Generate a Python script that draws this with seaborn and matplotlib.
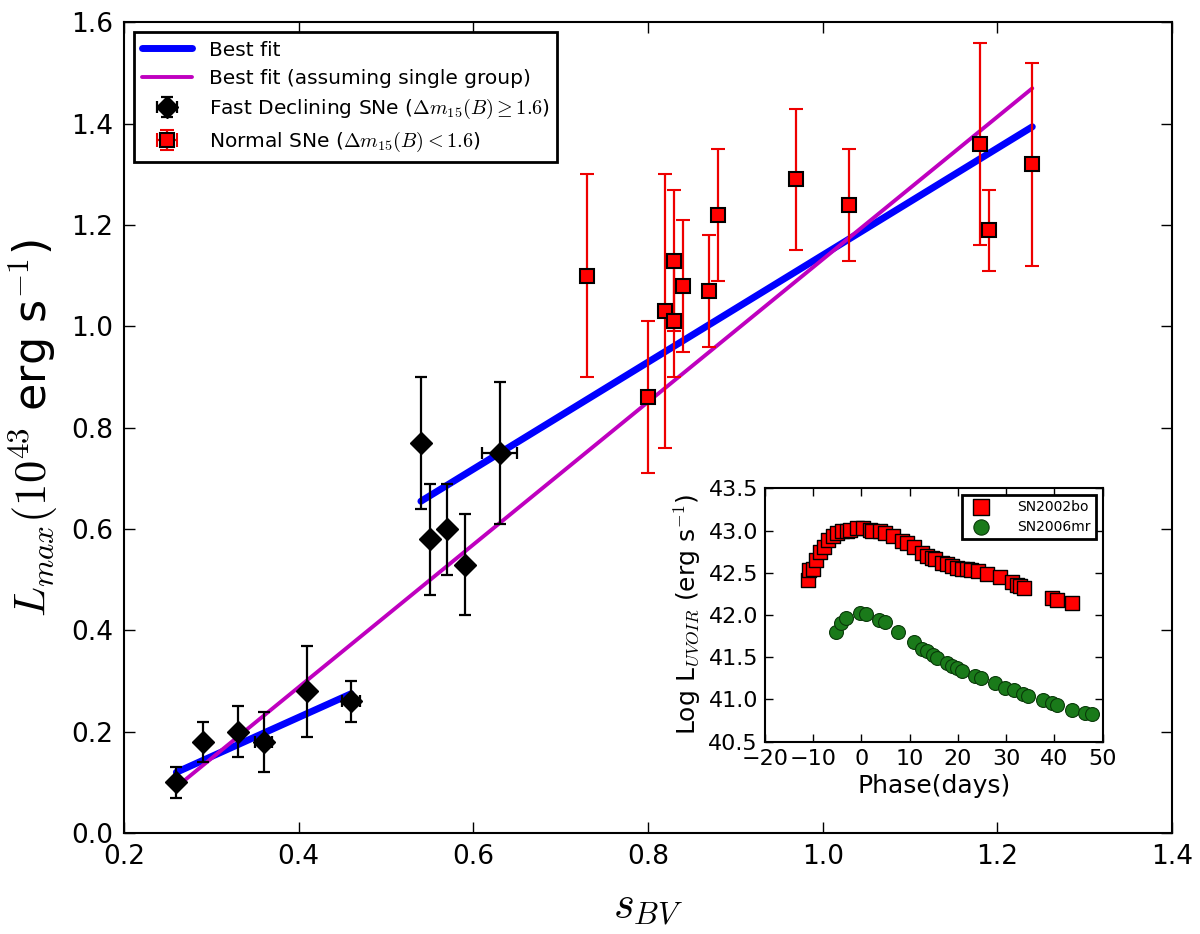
import numpy as np
import pandas as pd
import matplotlib
matplotlib.use("Agg")
import matplotlib.pyplot as plt
import seaborn as sns

# ---------------- data ----------------
fast_s = [0.26, 0.29, 0.33, 0.36, 0.41, 0.46, 0.54, 0.55, 0.57, 0.59, 0.63]
fast_L = [0.10, 0.18, 0.20, 0.18, 0.28, 0.26, 0.77, 0.58, 0.60, 0.53, 0.75]
fast_Lerr = [0.03, 0.04, 0.05, 0.06, 0.09, 0.04, 0.13, 0.11, 0.09, 0.10, 0.14]
fast_serr = [0.0, 0.0, 0.0, 0.01, 0.0, 0.01, 0.0, 0.0, 0.0, 0.0, 0.02]

norm_s = [0.73, 0.82, 0.83, 0.83, 0.84, 0.87, 0.88, 0.80, 0.97, 1.03, 1.18, 1.19, 1.24]
norm_L = [1.10, 1.03, 1.13, 1.01, 1.08, 1.07, 1.22, 0.86, 1.29, 1.24, 1.36, 1.19, 1.32]
norm_Lerr = [0.20, 0.27, 0.14, 0.11, 0.13, 0.11, 0.13, 0.15, 0.14, 0.11, 0.20, 0.08, 0.20]
norm_serr = [0.0] * 13

fit_fast_s = [0.26, 0.46]
fit_fast_L = [0.12, 0.275]
fit_norm_s = [0.54, 1.24]
fit_norm_L = [0.655, 1.394]
fit_all_s = [0.26, 1.24]
fit_all_L = [0.091, 1.470]

sn02bo_phase = [-11.0, -10.8, -10.0, -9.5, -8.6, -7.8, -6.9, -6.0, -5.1, -4.1, -3.1, -2.4,
                -1.0, 0.4, 1.8, 2.1, 3.8, 4.9, 6.6, 8.3, 9.4, 10.8, 12.5, 13.5, 14.6, 15.2,
                16.6, 17.7, 18.7, 19.7, 20.8, 21.8, 22.8, 24.2, 26.0, 28.7, 31.1, 32.2,
                32.9, 33.7, 39.4, 40.5, 43.6]
sn02bo_logL = [42.41, 42.53, 42.55, 42.65, 42.75, 42.81, 42.89, 42.93, 42.97, 42.99, 43.00,
               43.01, 43.03, 43.03, 43.01, 43.00, 42.99, 42.97, 42.93, 42.88, 42.85, 42.80,
               42.73, 42.70, 42.67, 42.66, 42.62, 42.60, 42.58, 42.56, 42.55, 42.54, 42.53,
               42.52, 42.49, 42.45, 42.39, 42.36, 42.34, 42.32, 42.20, 42.18, 42.14]

sn06mr_phase = [-5.3, -4.3, -3.2, -0.4, 0.9, 3.7, 4.9, 7.6, 10.8, 12.5, 13.5, 14.8, 15.7,
                17.7, 18.7, 19.7, 20.8, 23.5, 24.7, 27.7, 29.8, 31.6, 33.4, 34.6, 37.7,
                39.4, 40.6, 43.6, 46.4, 47.7]
sn06mr_logL = [41.80, 41.90, 41.97, 42.02, 42.01, 41.94, 41.92, 41.80, 41.68, 41.60, 41.57,
               41.53, 41.49, 41.43, 41.40, 41.37, 41.34, 41.28, 41.25, 41.19, 41.14, 41.11,
               41.06, 41.04, 40.99, 40.96, 40.93, 40.88, 40.84, 40.83]

# ---------------- style ----------------
sns.set_style("ticks")
plt.rcParams["font.family"] = ["DejaVu Sans"]
plt.rcParams["mathtext.fontset"] = "cm"
plt.rcParams["axes.linewidth"] = 1.5
for k in ["text.color", "axes.labelcolor", "xtick.color", "ytick.color", "axes.edgecolor"]:
    plt.rcParams[k] = "black"

fig = plt.figure(figsize=(12, 9.34), dpi=100)
ax = fig.add_axes([0.1033, 0.108, 0.8734, 0.868])

sns.lineplot(x=fit_fast_s, y=fit_fast_L, ax=ax, color="#0000ff", lw=5.0, label="Best fit",
             solid_capstyle="round")
sns.lineplot(x=fit_norm_s, y=fit_norm_L, ax=ax, color="#0000ff", lw=5.0,
             solid_capstyle="round")
sns.lineplot(x=fit_all_s, y=fit_all_L, ax=ax, color="#bf00bf", lw=2.8,
             label="Best fit (assuming single group)", solid_capstyle="round")

ax.errorbar(fast_s, fast_L, yerr=fast_Lerr, xerr=fast_serr, fmt="D", color="black",
            mfc="black", mec="black", ms=11, elinewidth=1.6, capsize=4.5, capthick=1.6,
            zorder=3, label=r"Fast Declining SNe ($\Delta m_{15}(B) \geq 1.6$)")
ax.errorbar(norm_s, norm_L, yerr=norm_Lerr, xerr=norm_serr, fmt="s", color="#ff0000",
            ecolor="#ee0000", mfc="#ff0000", mec="black", mew=1.5, ms=10, elinewidth=1.6,
            capsize=5, capthick=1.6, zorder=3,
            label=r"Normal SNe ($\Delta m_{15}(B) < 1.6$)")

ax.set_xlim(0.2, 1.4)
ax.set_ylim(0.0, 1.6)
ax.set_xticks(np.arange(0.2, 1.41, 0.2))
ax.set_yticks(np.arange(0.0, 1.61, 0.2))
ax.xaxis.set_major_formatter(matplotlib.ticker.FormatStrFormatter("%.1f"))
ax.yaxis.set_major_formatter(matplotlib.ticker.FormatStrFormatter("%.1f"))
ax.tick_params(direction="in", top=True, right=True, length=8, width=1, labelsize=19, pad=8)
for sp in ax.spines.values():
    sp.set_visible(True)
    sp.set_color("black")
    sp.set_linewidth(1.5)
ax.set_xlabel(r"$s_{BV}$", fontsize=32, labelpad=10)
ax.set_ylabel(r"$L_{max}(10^{43}$ erg s$^{-1}$)", fontsize=32, labelpad=8)

leg = ax.legend(loc="upper left", fontsize=14.5, frameon=True, fancybox=False,
                handlelength=2.5, borderaxespad=0.5, labelspacing=0.45)
leg.get_frame().set_edgecolor("black")
leg.get_frame().set_linewidth(2)
leg.get_frame().set_alpha(1)

# ---------------- inset ----------------
ins = fig.add_axes([0.6375, 0.2059, 0.2814, 0.2713])
df_bo = pd.DataFrame({"phase": sn02bo_phase, "logL": sn02bo_logL})
df_mr = pd.DataFrame({"phase": sn06mr_phase, "logL": sn06mr_logL})
sns.scatterplot(data=df_bo, x="phase", y="logL", ax=ins, marker="s", s=115,
                color="#ff0000", edgecolor="black", linewidth=1.0, label="SN2002bo", zorder=3)
sns.scatterplot(data=df_mr, x="phase", y="logL", ax=ins, marker="o", s=100,
                color="#1a7a1a", edgecolor="#0a3a0a", linewidth=0.8, label="SN2006mr", zorder=3)
ins.set_xlim(-20, 50)
ins.set_ylim(40.5, 43.5)
ins.set_xticks(np.arange(-20, 51, 10))
ins.set_yticks(np.arange(40.5, 43.51, 0.5))
ins.yaxis.set_major_formatter(matplotlib.ticker.FormatStrFormatter("%.1f"))
ins.tick_params(direction="in", top=True, right=True, length=6, width=1, labelsize=16, pad=5)
for sp in ins.spines.values():
    sp.set_visible(True)
    sp.set_color("black")
    sp.set_linewidth(1.5)
ins.set_xlabel("Phase(days)", fontsize=18, labelpad=4)
ins.set_ylabel(r"Log L$_{UVOIR}$ (erg s$^{-1}$)", fontsize=18, labelpad=4)
ileg = ins.legend(loc="upper right", fontsize=10, frameon=True, fancybox=False,
                  borderaxespad=0.45, handletextpad=1.6, labelspacing=0.4, markerscale=1.1)
ileg.get_frame().set_edgecolor("black")
ileg.get_frame().set_linewidth(2)
ileg.get_frame().set_alpha(1)

fig.savefig("out.png", dpi=100)
